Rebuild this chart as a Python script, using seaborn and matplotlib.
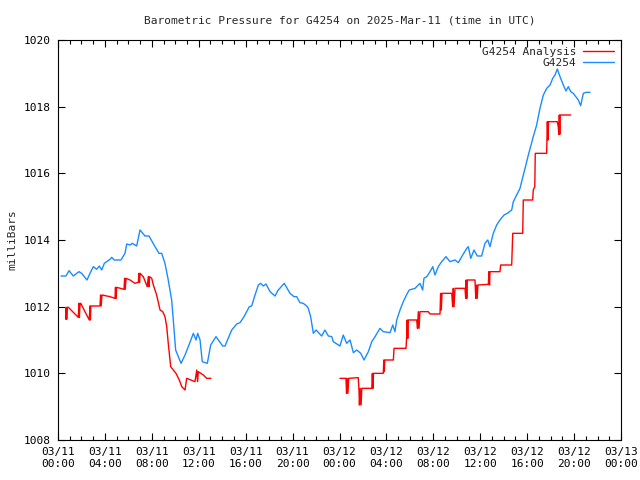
import numpy as np
import pandas as pd
import matplotlib
matplotlib.use("Agg")
import matplotlib.pyplot as plt
import matplotlib.dates as mdates
from matplotlib.lines import Line2D
import seaborn as sns

# hours after 2025-03-11 00:00 UTC, pressure in mb
station_hours = [0.26, 0.68, 0.94, 1.30, 1.79, 2.02, 2.47, 2.73, 3.01, 3.30, 3.52, 3.73, 3.95, 4.43,
                 4.58, 4.80, 5.37, 5.71, 5.86, 6.14, 6.33, 6.71, 6.99, 7.42, 7.76, 8.27, 8.61, 8.84,
                 9.12, 9.40, 9.69, 9.83, 10.03, 10.49, 10.83, 11.11, 11.54, 11.77, 11.91, 12.11,
                 12.30, 12.73, 13.02, 13.47, 14.04, 14.24, 14.81, 15.24, 15.52, 15.86, 16.31, 16.51,
                 16.80, 17.08, 17.28, 17.50, 17.73, 18.08, 18.50, 18.78, 19.29, 19.78, 20.12, 20.35,
                 20.63, 20.91, 21.20, 21.34, 21.54, 21.68, 21.77, 22.00, 22.48, 22.76, 23.05, 23.34,
                 23.47, 24.04, 24.32, 24.61, 24.90, 25.18, 25.47, 25.81, 26.09, 26.46, 26.75, 27.03,
                 27.45, 27.73, 28.31, 28.54, 28.73, 28.88, 29.16, 29.44, 29.78, 29.95, 30.44, 30.86,
                 31.09, 31.20, 31.44, 31.72, 31.95, 32.14, 32.42, 32.71, 33.08, 33.42, 33.85, 34.13,
                 34.42, 34.85, 34.98, 35.19, 35.47, 35.75, 36.12, 36.40, 36.64, 36.83, 37.11, 37.40,
                 37.68, 38.03, 38.31, 38.68, 38.82, 39.11, 39.39, 39.67, 39.82, 40.10, 40.52, 40.81,
                 41.09, 41.38, 41.67, 41.95, 42.18, 42.37, 42.57, 42.80, 43.08, 43.31, 43.51, 43.71,
                 43.93, 44.36, 44.56, 44.79, 45.02, 45.36]
station_press = [1012.92, 1012.92, 1013.08, 1012.92, 1013.05, 1013.00, 1012.80, 1013.00, 1013.20,
                 1013.12, 1013.22, 1013.10, 1013.30, 1013.42, 1013.48, 1013.40, 1013.40, 1013.60,
                 1013.88, 1013.85, 1013.90, 1013.82, 1014.30, 1014.12, 1014.12, 1013.80, 1013.60,
                 1013.60, 1013.30, 1012.80, 1012.20, 1011.60, 1010.70, 1010.30, 1010.55, 1010.80,
                 1011.20, 1011.00, 1011.20, 1011.00, 1010.35, 1010.30, 1010.85, 1011.10, 1010.82,
                 1010.82, 1011.30, 1011.48, 1011.52, 1011.70, 1012.00, 1012.02, 1012.35, 1012.65,
                 1012.70, 1012.62, 1012.68, 1012.45, 1012.32, 1012.50, 1012.70, 1012.40, 1012.30,
                 1012.30, 1012.12, 1012.10, 1012.02, 1011.95, 1011.70, 1011.40, 1011.20, 1011.30,
                 1011.12, 1011.30, 1011.12, 1011.10, 1010.95, 1010.82, 1011.15, 1010.90, 1011.00,
                 1010.62, 1010.70, 1010.60, 1010.40, 1010.65, 1010.95, 1011.10, 1011.35, 1011.25,
                 1011.22, 1011.45, 1011.25, 1011.60, 1011.90, 1012.15, 1012.40, 1012.50, 1012.55,
                 1012.70, 1012.50, 1012.85, 1012.90, 1013.05, 1013.20, 1012.95, 1013.20, 1013.35,
                 1013.50, 1013.35, 1013.40, 1013.32, 1013.50, 1013.75, 1013.80, 1013.45, 1013.70,
                 1013.52, 1013.52, 1013.90, 1014.00, 1013.80, 1014.20, 1014.45, 1014.60, 1014.75,
                 1014.80, 1014.90, 1015.15, 1015.35, 1015.55, 1015.95, 1016.15, 1016.55, 1017.10,
                 1017.45, 1017.95, 1018.35, 1018.55, 1018.65, 1018.85, 1018.95, 1019.13, 1018.90,
                 1018.65, 1018.47, 1018.60, 1018.45, 1018.40, 1018.20, 1018.03, 1018.40, 1018.43,
                 1018.43]

# analysis, first run of values (03/11 morning)
analysis1_hours = [0.66, 0.70, 0.74, 0.80, 0.88, 1.25, 1.73, 1.78, 1.82, 1.88, 1.94, 2.30, 2.67,
                   2.72, 2.76, 2.80, 3.58, 3.63, 3.68, 3.75, 4.43, 4.86, 4.90, 4.95, 5.00, 5.63,
                   5.68, 5.73, 5.80, 6.14, 6.56, 6.85, 6.90, 6.95, 7.00, 7.27, 7.61, 7.70, 7.75,
                   7.80, 7.99, 8.13, 8.41, 8.70, 8.93, 9.12, 9.27, 9.40, 9.61, 9.78, 10.06, 10.34,
                   10.55, 10.83, 10.97, 11.68, 11.83, 11.90, 11.96, 12.39, 12.68, 13.04]
analysis1_press = [1011.62, 1011.98, 1011.62, 1011.98, 1011.98, 1011.85, 1011.68, 1012.10, 1011.68,
                   1012.10, 1012.10, 1011.85, 1011.60, 1012.02, 1011.60, 1012.02, 1012.02, 1012.35,
                   1012.02, 1012.35, 1012.30, 1012.25, 1012.58, 1012.25, 1012.58, 1012.52, 1012.85,
                   1012.52, 1012.85, 1012.80, 1012.70, 1012.73, 1013.00, 1012.73, 1013.00, 1012.90,
                   1012.60, 1012.90, 1012.60, 1012.90, 1012.85, 1012.65, 1012.35, 1011.90, 1011.85,
                   1011.70, 1011.40, 1010.90, 1010.20, 1010.12, 1010.00, 1009.80, 1009.60, 1009.50,
                   1009.85, 1009.75, 1010.10, 1009.75, 1010.05, 1009.95, 1009.85, 1009.85]

# analysis, second run of values (03/12)
analysis2_hours = [24.04, 24.55, 24.60, 24.65, 24.72, 24.78, 25.60, 25.66, 25.70, 25.76, 25.84,
                   25.90, 26.75, 26.80, 26.85, 26.90, 27.73, 27.78, 27.82, 27.86, 28.59, 28.65,
                   29.67, 29.72, 29.77, 29.82, 29.87, 30.58, 30.65, 30.72, 30.78, 30.86, 31.57,
                   31.72, 32.57, 32.62, 32.68, 32.74, 33.57, 33.65, 33.70, 33.76, 33.85, 34.70,
                   34.76, 34.80, 34.85, 34.90, 35.55, 35.62, 35.68, 35.74, 35.80, 36.69, 36.74,
                   36.79, 36.83, 37.68, 37.74, 38.68, 38.77, 39.62, 39.67, 40.47, 40.52, 40.65,
                   40.69, 41.66, 41.72, 41.77, 41.82, 42.57, 42.65, 42.70, 42.74, 42.78, 42.82,
                   43.71]
analysis2_press = [1009.85, 1009.85, 1009.40, 1009.85, 1009.40, 1009.85, 1009.87, 1009.50, 1009.05,
                   1009.55, 1009.05, 1009.55, 1009.55, 1010.00, 1009.55, 1010.00, 1010.00, 1010.40,
                   1010.05, 1010.40, 1010.40, 1010.75, 1010.75, 1011.05, 1011.60, 1011.05, 1011.60,
                   1011.60, 1011.35, 1011.85, 1011.35, 1011.85, 1011.85, 1011.78, 1011.78, 1012.40,
                   1011.90, 1012.40, 1012.40, 1012.00, 1012.55, 1012.00, 1012.55, 1012.55, 1012.25,
                   1012.80, 1012.25, 1012.80, 1012.80, 1012.25, 1012.65, 1012.25, 1012.65, 1012.67,
                   1013.05, 1012.65, 1013.05, 1013.05, 1013.25, 1013.25, 1014.20, 1014.20, 1015.20,
                   1015.20, 1015.50, 1015.60, 1016.60, 1016.60, 1017.55, 1017.00, 1017.55, 1017.55,
                   1017.40, 1017.17, 1017.75, 1017.17, 1017.75, 1017.75]

start = pd.Timestamp("2025-03-11 00:00")


def make_frame(hours, press, name, seg):
    return pd.DataFrame({
        "time": start + pd.to_timedelta(hours, unit="h"),
        "pressure": press,
        "series": name,
        "seg": seg,
    })


df = pd.concat([
    make_frame(analysis1_hours, analysis1_press, "G4254 Analysis", 0),
    make_frame(analysis2_hours, analysis2_press, "G4254 Analysis", 1),
    make_frame(station_hours, station_press, "G4254", 2),
], ignore_index=True)

colors = {"G4254 Analysis": "#ff0000", "G4254": "#1a8cff"}

sns.set_style("ticks")
plt.rcParams["font.family"] = ["DejaVu Sans Mono"]

fig = plt.figure(figsize=(6.4, 4.8), dpi=100)
ax = fig.add_axes([58 / 640, 40 / 480, 563 / 640, 400 / 480])

sns.lineplot(data=df, x="time", y="pressure", hue="series", units="seg",
             estimator=None, palette=colors, linewidth=1.0, legend=False, ax=ax)

ax.set_xlim(start, start + pd.Timedelta(hours=48))
ax.set_ylim(1008, 1020)
ax.set_yticks(np.arange(1008, 1021, 2))
ax.xaxis.set_major_locator(mdates.HourLocator(byhour=[0, 4, 8, 12, 16, 20]))
ax.xaxis.set_minor_locator(mdates.HourLocator())
ax.xaxis.set_major_formatter(mdates.DateFormatter("%m/%d\n%H:%M"))

ax.tick_params(axis="both", which="both", direction="in", top=True, right=True,
               labelsize=8, colors="black", width=0.8)
ax.tick_params(axis="both", which="major", length=5, pad=5)
ax.tick_params(axis="both", which="minor", length=3)
for sp in ax.spines.values():
    sp.set_visible(True)
    sp.set_color("black")
    sp.set_linewidth(0.8)

ax.set_xlabel("")
ax.set_ylabel("milliBars", fontsize=8, labelpad=5)
ax.set_title("Barometric Pressure for G4254 on 2025-Mar-11 (time in UTC)", fontsize=8, pad=12)

handles = [Line2D([], [], color=colors[k], lw=1.0) for k in colors]
ax.legend(handles, list(colors), loc="upper right", frameon=False, markerfirst=False,
          fontsize=8, handlelength=2.8, handletextpad=0.6, borderaxespad=0.2,
          labelspacing=0.1)

fig.savefig("out.png", dpi=100)
